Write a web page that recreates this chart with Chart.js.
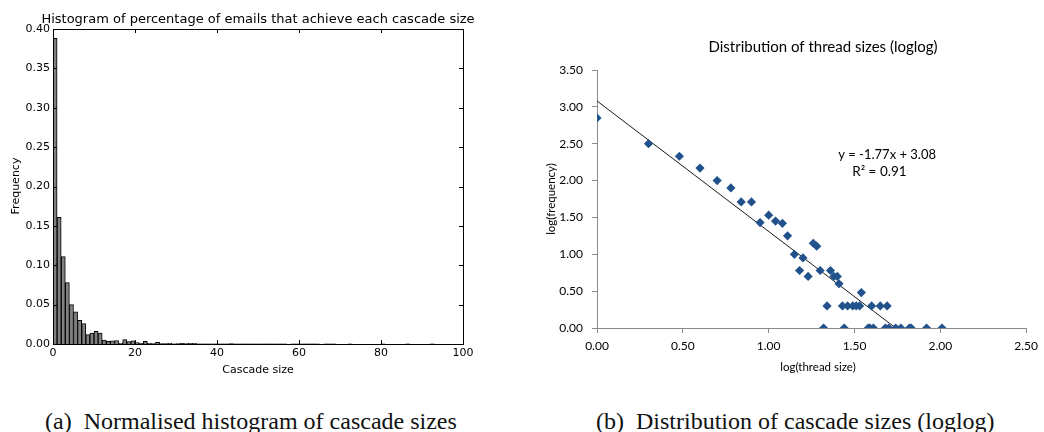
<!DOCTYPE html>
<html>
<head>
<meta charset="utf-8">
<script src="https://cdn.jsdelivr.net/npm/chart.js@4.4.1/dist/chart.umd.min.js"></script>
<style>
  body { margin: 0; background: #fff; width: 1044px; height: 432px; position: relative; overflow: hidden; }
  canvas { position: absolute; top: 0; }
  #histo { left: 0; }
  #loglog { left: 520px; }
  .caption { position: absolute; top: 409px; font-family: "Liberation Serif", "DejaVu Serif", serif; font-size: 24px; line-height: 24px; color: #111; white-space: nowrap; }
  #capA { left: 45px; }
  #capB { left: 596px; }
</style>
</head>
<body>
<canvas id="histo" width="520" height="385"></canvas>
<canvas id="loglog" width="524" height="385"></canvas>
<div class="caption" id="capA">(a)&nbsp; Normalised histogram of cascade sizes</div>
<div class="caption" id="capB">(b)&nbsp; Distribution of cascade sizes (loglog)</div>
<script>
// left: normalised histogram, one bin per cascade size 0..99
var cascadeFreq = [
  0.388, 0.161, 0.111, 0.078, 0.050, 0.041, 0.030, 0.026, 0.012, 0.014,
  0.016, 0.014, 0.005, 0.0035, 0.004, 0.0045, 0.0012, 0.0055, 0.003, 0.004,
  0.0017, 0.001, 0.0034, 0.001, 0.0005, 0.002, 0.0006, 0.0004, 0.0008, 0.0003,
  0.0004, 0.0007, 0.0005, 0.0009, 0.0008, 0.0003, 0.0002, 0.0003, 0.0002, 0.0002,
  0.0001, 0.0002, 0.0003, 0.0004, 0.0002, 0.0001, 0.0001, 0.0002, 0.0001, 0.0002,
  0.0001, 0.0001, 0.0002, 0.0001, 0.0001, 0.0001, 0.0001, 0, 0.0001, 0.0001,
  0.0001, 0.0001, 0.0003, 0.0002, 0.0001, 0, 0.0001, 0.0001, 0.0001, 0,
  0, 0, 0.0001, 0, 0, 0, 0, 0, 0, 0,
  0.0001, 0, 0, 0, 0, 0, 0.0001, 0, 0, 0,
  0, 0, 0.0001, 0, 0, 0, 0, 0, 0, 0
];
var histXTicks = [0, 20, 40, 60, 80, 100];
var histYTicks = [0, 0.05, 0.10, 0.15, 0.20, 0.25, 0.30, 0.35, 0.40];

// right: log(thread size) vs log(frequency)
var logSize = [
  0.00, 0.30, 0.48, 0.60, 0.70, 0.78, 0.84, 0.90, 0.95, 1.00,
  1.04, 1.08, 1.11, 1.15, 1.18, 1.20, 1.23, 1.26, 1.28, 1.30,
  1.32, 1.34, 1.36, 1.38, 1.40, 1.41, 1.43, 1.44, 1.46, 1.49,
  1.51, 1.53, 1.54, 1.58, 1.59, 1.60, 1.61, 1.65, 1.68, 1.69,
  1.70, 1.74, 1.77, 1.82, 1.83, 1.92, 2.01
];
var logFreq = [
  2.85, 2.50, 2.33, 2.17, 2.00, 1.90, 1.71, 1.71, 1.43, 1.53,
  1.45, 1.42, 1.25, 1.00, 0.78, 0.95, 0.70, 1.15, 1.11, 0.78,
  0.00, 0.30, 0.78, 0.70, 0.70, 0.60, 0.30, 0.00, 0.30, 0.30,
  0.30, 0.30, 0.48, 0.00, 0.00, 0.30, 0.00, 0.30, 0.00, 0.30,
  0.00, 0.00, 0.00, 0.00, 0.00, 0.00, 0.00
];
var trendSlope = -1.77;
var trendIntercept = 3.08;
var trendR2 = 0.91;

Chart.defaults.animation = false;

function drawText(ctx, text, x, y, font, color, rot, base) {
  ctx.save();
  ctx.font = font;
  ctx.fillStyle = color;
  ctx.textAlign = 'center';
  ctx.textBaseline = base || 'middle';
  ctx.translate(x, y);
  if (rot) ctx.rotate(rot);
  ctx.fillText(text, 0, 0);
  ctx.restore();
}

// matplotlib style box with ticks pointing inwards on all four sides
var mplFrame = {
  id: 'mplFrame',
  afterDraw: function (chart) {
    var ctx = chart.ctx, a = chart.chartArea;
    var xs = chart.scales.x, ys = chart.scales.y;
    ctx.save();
    ctx.strokeStyle = '#000';
    ctx.lineWidth = 1;
    ctx.strokeRect(Math.round(a.left) + 0.5, Math.round(a.top) + 0.5,
      Math.round(a.right - a.left), Math.round(a.bottom - a.top));
    ctx.beginPath();
    histXTicks.forEach(function (v) {
      var px = Math.round(xs.getPixelForValue(v)) + 0.5;
      ctx.moveTo(px, a.bottom); ctx.lineTo(px, a.bottom - 4);
      ctx.moveTo(px, a.top); ctx.lineTo(px, a.top + 4);
    });
    histYTicks.forEach(function (v) {
      var py = Math.round(ys.getPixelForValue(v)) + 0.5;
      ctx.moveTo(a.left, py); ctx.lineTo(a.left + 4, py);
      ctx.moveTo(a.right, py); ctx.lineTo(a.right - 4, py);
    });
    ctx.stroke();
    ctx.restore();
    var f = '"DejaVu Sans", sans-serif';
    drawText(ctx, 'Histogram of percentage of emails that achieve each cascade size',
      (a.left + a.right) / 2, 23, '13px ' + f, '#000', 0, 'alphabetic');
    drawText(ctx, 'Cascade size', (a.left + a.right) / 2, 370, '11px ' + f, '#000');
    drawText(ctx, 'Frequency', 16, 186, '11px ' + f, '#000', -Math.PI / 2);
  }
};

new Chart(document.getElementById('histo'), {
  type: 'bar',
  data: {
    datasets: [{
      data: cascadeFreq.map(function (v, i) { return { x: i + 0.5, y: v }; }),
      backgroundColor: '#808080',
      borderColor: '#000',
      borderWidth: 1,
      borderSkipped: 'bottom',
      barPercentage: 1,
      categoryPercentage: 1
    }]
  },
  options: {
    responsive: false,
    devicePixelRatio: 1,
    layout: { padding: { top: 29, right: 57, left: 0, bottom: 0 } },
    plugins: { legend: { display: false }, tooltip: { enabled: false } },
    scales: {
      x: {
        type: 'linear', min: 0, max: 100, offset: false,
        afterFit: function (s) { s.height = 41; },
        afterBuildTicks: function (s) { s.ticks = histXTicks.map(function (v) { return { value: v }; }); },
        grid: { display: false, drawTicks: false },
        border: { display: false },
        ticks: { padding: 3, color: '#000', font: { family: 'DejaVu Sans', size: 11 }, maxRotation: 0 }
      },
      y: {
        min: 0, max: 0.4,
        afterFit: function (s) { s.width = 53; },
        afterBuildTicks: function (s) { s.ticks = histYTicks.map(function (v) { return { value: v }; }); },
        grid: { display: false, drawTicks: false },
        border: { display: false },
        ticks: {
          padding: 3, color: '#000', font: { family: 'DejaVu Sans', size: 11 },
          callback: function (v) { return v.toFixed(2); }
        }
      }
    }
  },
  plugins: [mplFrame]
});

var excelText = {
  id: 'excelText',
  afterDraw: function (chart) {
    var ctx = chart.ctx;
    var xs = chart.scales.x, ys = chart.scales.y;
    var f = 'Lato, "Open Sans", sans-serif';
    drawText(ctx, 'Distribution of thread sizes (loglog)', 303, 47, '15px ' + f, '#000');
    drawText(ctx, 'log(thread size)', 298, 367, '11.5px ' + f, '#000');
    drawText(ctx, 'log(frequency)', 31, 199, '11.5px ' + f, '#000', -Math.PI / 2);
    var eq = 'y = ' + trendSlope.toFixed(2) + 'x + ' + trendIntercept.toFixed(2);
    drawText(ctx, eq, xs.getPixelForValue(1.69), ys.getPixelForValue(2.35), '13px ' + f, '#000');
    drawText(ctx, 'R\u00b2 = ' + trendR2.toFixed(2), xs.getPixelForValue(1.645), ys.getPixelForValue(2.12), '13.5px ' + f, '#000');
  }
};

var trendEnd = -trendIntercept / trendSlope;

new Chart(document.getElementById('loglog'), {
  type: 'scatter',
  data: {
    datasets: [{
      type: 'line',
      data: [{ x: 0, y: trendIntercept }, { x: trendEnd, y: trendIntercept + trendSlope * trendEnd }],
      borderColor: '#1a1a1a',
      borderWidth: 1,
      pointRadius: 0,
      fill: false,
      order: 2
    }, {
      data: logSize.map(function (v, i) { return { x: v, y: logFreq[i] }; }),
      pointStyle: 'rectRot',
      pointRadius: 4.6,
      backgroundColor: '#22528c',
      borderColor: '#22528c',
      borderWidth: 0,
      order: 1
    }]
  },
  options: {
    responsive: false,
    devicePixelRatio: 1,
    layout: { padding: { top: 70, right: 12, left: 0, bottom: 0 } },
    plugins: { legend: { display: false }, tooltip: { enabled: false } },
    scales: {
      x: {
        type: 'linear', min: 0, max: 2.5,
        afterFit: function (s) { s.height = 57; },
        ticks: {
          stepSize: 0.5, padding: 6, color: '#000', font: { family: 'Lato', size: 12 },
          callback: function (v) { return v.toFixed(2); }
        },
        grid: { drawOnChartArea: false, drawTicks: true, tickLength: 5, color: '#8a8a8a' },
        border: { color: '#8a8a8a' }
      },
      y: {
        type: 'linear', min: 0, max: 3.5,
        afterFit: function (s) { s.width = 77; },
        ticks: {
          stepSize: 0.5, padding: 9, color: '#000', font: { family: 'Lato', size: 12 },
          callback: function (v) { return v.toFixed(2); }
        },
        grid: { drawOnChartArea: false, drawTicks: true, tickLength: 5, color: '#8a8a8a' },
        border: { color: '#8a8a8a' }
      }
    }
  },
  plugins: [excelText]
});
</script>
</body>
</html>
